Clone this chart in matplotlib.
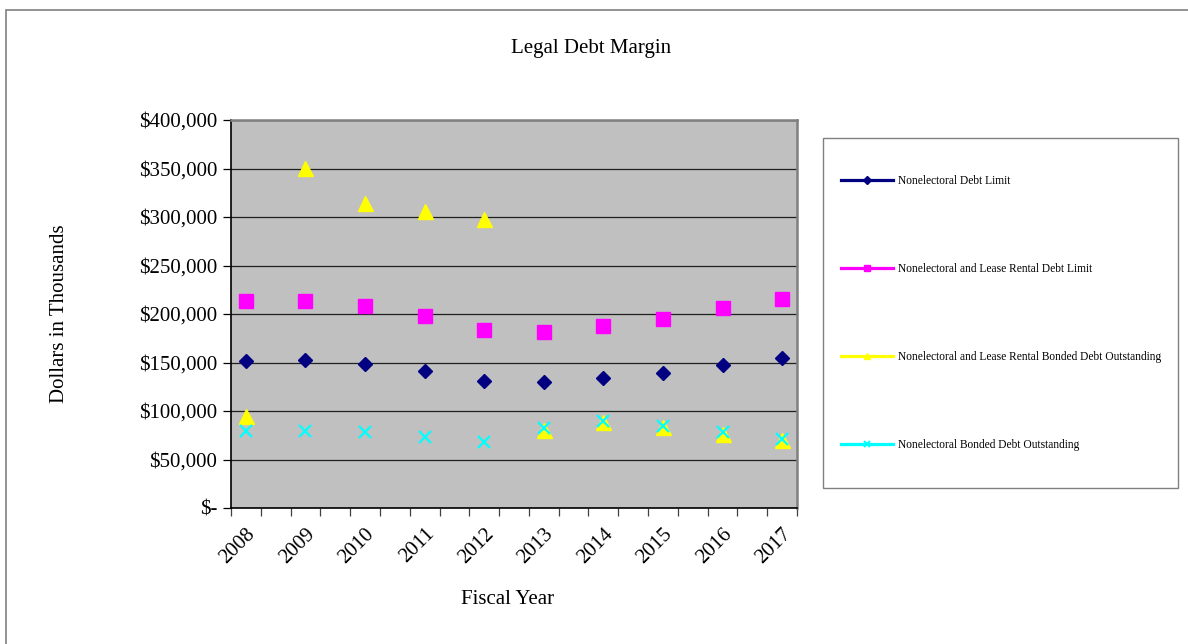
import numpy as np
import matplotlib.pyplot as plt
from matplotlib.lines import Line2D
from matplotlib.patches import Rectangle
from matplotlib.ticker import FuncFormatter, FixedLocator

plt.rcParams['font.family'] = ['Liberation Serif', 'DejaVu Serif']

years = ['2008', '2009', '2010', '2011', '2012', '2013', '2014', '2015', '2016', '2017']
debt_limit = [151600, 152600, 148500, 141500, 131200, 129500, 134300, 139500, 147100, 154300]
lease_limit = [213100, 213800, 208300, 198300, 183500, 181100, 187600, 194800, 205900, 215800]
lease_bonded = [94900, 350900, 314800, 306200, 298000, 80400, 89000, 83200, 76300, 70100]
bonded = [79700, 79400, 78000, 73500, 68400, 82200, 90000, 84500, 78000, 70800]

labels = ['Nonelectoral Debt Limit',
          'Nonelectoral and Lease Rental Debt Limit',
          'Nonelectoral and Lease Rental Bonded Debt Outstanding',
          'Nonelectoral Bonded Debt Outstanding']

fig = plt.figure(figsize=(11.88, 6.44), dpi=100)
W, H = 1188, 644

# outer chart border
fig.patches.append(Rectangle((6 / W, -0.05), 1.2, 1 - 10 / H + 0.05, transform=fig.transFigure,
                             fill=False, edgecolor='#808080', lw=1.2))
# legend box
fig.patches.append(Rectangle((823 / W, 1 - 488 / H), 355 / W, 350 / H, transform=fig.transFigure,
                             fill=False, edgecolor='#808080', lw=1.0))

ax = fig.add_axes([231 / W, 1 - 508 / H, 566 / W, 388 / H])
ax.set_facecolor('#C0C0C0')

# categories: one slot per year plus an empty slot between years
x = np.arange(0, 2 * len(years), 2)

ax.plot(x, debt_limit, ls='none', marker='D', ms=6.8, color='#000080', zorder=3)
ax.plot(x, lease_limit, ls='none', marker='s', ms=10.5, color='#FF00FF', zorder=3)
ax.plot(x, lease_bonded, ls='none', marker='^', ms=10.8, color='#FFFF00', zorder=3)
ax.plot(x, bonded, ls='none', marker='x', ms=9, mew=1.6, color='#00FFFF', zorder=4)

ax.set_xlim(-0.5, 2 * len(years) - 1.5)
ax.set_ylim(0, 400000)
ax.set_yticks(np.arange(0, 400001, 50000))
ax.yaxis.set_major_formatter(FuncFormatter(lambda v, p: '$-' if v == 0 else '${:,.0f}'.format(v)))
ax.grid(axis='y', color='#202020', lw=0.9)
ax.set_axisbelow(True)

ax.set_xticks(x)
ax.set_xticklabels(years, rotation=45, ha='right', rotation_mode='anchor')
ax.xaxis.set_minor_locator(FixedLocator(np.arange(-0.5, 2 * len(years) - 1, 1)))
ax.tick_params(axis='x', which='major', length=0, pad=12, labelsize=15)
ax.tick_params(axis='x', which='minor', length=6, width=0.9, direction='out', color='#404040')
ax.tick_params(axis='y', length=6, width=0.9, pad=4, labelsize=15)

for s in ['top', 'right']:
    ax.spines[s].set_color('#808080')
    ax.spines[s].set_linewidth(1.8)
for s in ['left', 'bottom']:
    ax.spines[s].set_color('black')
    ax.spines[s].set_linewidth(1.2)

fig.text(591 / W, 1 - 48 / H, 'Legal Debt Margin', ha='center', va='center', fontsize=15)
fig.text(60 / W, 1 - 314 / H, 'Dollars in Thousands', ha='center', va='center',
         rotation=90, fontsize=15)
fig.text(508 / W, 1 - 600 / H, 'Fiscal Year', ha='center', va='center', fontsize=15)

handles = [
    Line2D([], [], color='#000080', lw=2.3, marker='D', ms=4),
    Line2D([], [], color='#FF00FF', lw=2.3, marker='s', ms=5),
    Line2D([], [], color='#FFFF00', lw=2.3, marker='^', ms=5),
    Line2D([], [], color='#00FFFF', lw=2.3, marker='x', ms=4.5, mew=1.5),
]
leg = fig.legend(handles, labels, loc='center left',
                 bbox_to_anchor=(841 / W, 1 - 313 / H),
                 fontsize=8.3, labelspacing=6.6, borderpad=0,
                 handlelength=4.5, handletextpad=0.45, borderaxespad=0,
                 frameon=False)

fig.savefig('out.png', dpi=100)
